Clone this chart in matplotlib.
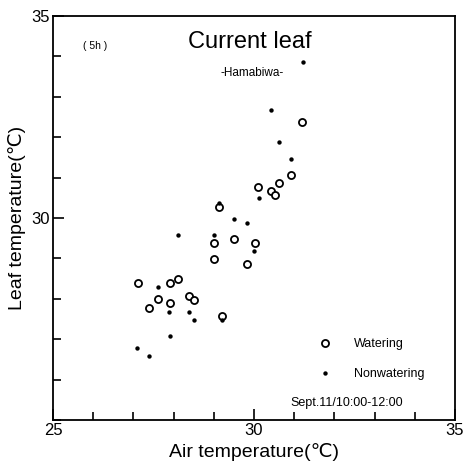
import matplotlib.pyplot as plt
from matplotlib.ticker import MultipleLocator, FixedLocator

# Watering (open circles)
water_air = [27.11, 27.39, 27.61, 27.91, 28.11, 27.91, 28.38, 28.51, 29.20, 29.00, 29.00,
             29.13, 29.50, 29.83, 30.02, 30.10, 30.42, 30.52, 30.62, 30.92, 31.19]
water_leaf = [28.39, 27.77, 28.00, 28.39, 28.49, 27.90, 28.07, 27.97, 27.57, 28.99, 29.38,
              30.27, 29.48, 28.86, 29.38, 30.77, 30.67, 30.57, 30.87, 31.06, 32.38]

# Nonwatering (filled dots)
dry_air = [27.09, 27.39, 27.61, 27.91, 28.11, 27.89, 28.38, 28.51, 29.20, 29.00,
           29.13, 29.50, 29.83, 30.00, 30.12, 30.42, 30.62, 30.92, 31.22]
dry_leaf = [26.78, 26.58, 28.29, 27.08, 29.58, 27.67, 27.67, 27.48, 27.48, 29.58,
            30.37, 29.98, 29.88, 29.18, 30.50, 32.67, 31.88, 31.46, 33.86]

xticks = [25, 30, 35]
yticks = [30, 35]

plt.rcParams['font.family'] = ['Liberation Sans', 'DejaVu Sans']

fig = plt.figure(figsize=(4.66, 4.68), dpi=100)
ax = fig.add_axes([0.1137, 0.1026, 0.8627, 0.8632])

ax.scatter(water_air, water_leaf, s=26, facecolors='white', edgecolors='black', linewidths=1.3, zorder=3)
ax.scatter(dry_air, dry_leaf, s=10, color='black', linewidths=0, zorder=4)

ax.set_xlim(25, 35)
ax.set_ylim(25, 35)
ax.xaxis.set_major_locator(FixedLocator(xticks))
ax.yaxis.set_major_locator(FixedLocator(yticks))
ax.xaxis.set_minor_locator(MultipleLocator(1))
ax.yaxis.set_minor_locator(MultipleLocator(1))
ax.tick_params(which='both', direction='in', top=False, right=False, width=1.2, labelsize=12, pad=2)
ax.tick_params(which='major', length=8)
ax.tick_params(which='minor', length=6)
for s in ax.spines.values():
    s.set_linewidth(1.3)

ax.set_xlabel('Air temperature(℃)', fontsize=14, labelpad=4)
ax.set_ylabel('Leaf temperature(℃)', fontsize=14, labelpad=4)

ax.text(0.105, 0.926, '( 5h )', transform=ax.transAxes, fontsize=7.5, ha='center', va='center')
ax.text(0.49, 0.935, 'Current leaf', transform=ax.transAxes, fontsize=17, ha='center', va='center')
ax.text(0.495, 0.860, '-Hamabiwa-', transform=ax.transAxes, fontsize=8.5, ha='center', va='center')

# legend drawn by hand
ax.scatter([31.77], [26.91], s=26, facecolors='white', edgecolors='black', linewidths=1.3)
ax.scatter([31.77], [26.16], s=10, color='black', linewidths=0)
ax.text(32.49, 26.87, 'Watering', fontsize=9, va='center')
ax.text(32.49, 26.13, 'Nonwatering', fontsize=9, va='center')
ax.text(32.31, 25.42, 'Sept.11/10:00-12:00', fontsize=9, ha='center', va='center')

fig.savefig('out.png', dpi=100)
